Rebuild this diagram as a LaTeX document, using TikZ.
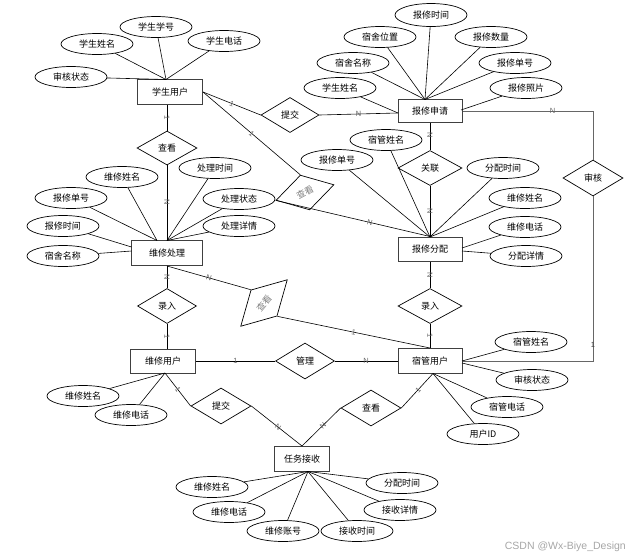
\documentclass[tikz,border=0pt]{standalone}
\usepackage{fontspec}
\setmainfont{Liberation Sans}
\newfontfamily\cjk{Noto Sans CJK SC}
\usetikzlibrary{shapes.geometric,calc}
\begin{document}
\begin{tikzpicture}[x=1pt,y=-1pt,
  ent/.style={draw=black!75, line width=1pt, minimum width=64pt, minimum height=24pt, inner sep=0pt, font=\cjk\fontsize{9}{9}\selectfont},
  attr/.style={ellipse, draw, line width=0.7pt, minimum width=72pt, minimum height=21pt, inner sep=0pt, font=\cjk\fontsize{9}{9}\selectfont},
  rel/.style={diamond, draw, line width=0.7pt, minimum width=60pt, minimum height=35pt, inner sep=0pt, font=\cjk\fontsize{9}{9}\selectfont},
  rtxt/.style={inner sep=0pt, text=black!50, font=\cjk\fontsize{9}{9}\selectfont},
  ln/.style={line width=0.6pt},
  gln/.style={line width=0.8pt, draw=black!60},
  mk/.style={sloped, font=\fontsize{7.5}{7.5}\selectfont, text=black!60, inner sep=0pt},
  mku/.style={font=\fontsize{7.5}{7.5}\selectfont, text=black!75, inner sep=0pt},
]
\useasboundingbox (0,0) rectangle (630,558);

% entities
\node[ent, minimum width=65pt, minimum height=25pt] (su) at (170,92) {学生用户};
\node[ent, minimum height=23pt] (bxsq) at (430,111) {报修申请};
\node[ent, minimum width=71pt, minimum height=25pt] (wxcl) at (167,253) {维修处理};
\node[ent] (bxfp) at (430,249) {报修分配};
\node[ent, minimum width=65pt] (wxyh) at (163,361) {维修用户};
\node[ent, minimum height=25pt] (sgyh) at (430,361) {宿管用户};
\node[ent, minimum width=55pt, minimum height=25pt] (rwjs) at (302,459) {任务接收};

% relationships
\node[rel, minimum width=58pt] (tj1) at (290,115) {提交};
\node[rel, minimum height=34pt] (ck1) at (167,148) {查看};
\node[rel, minimum width=64pt] (gl) at (430,168) {关联};
\node[rel, minimum height=36pt] (sh) at (593,178) {审核};
\node[rel, minimum width=59pt] (lr1) at (167,306) {录入};
\node[rel, minimum width=64pt] (lr2) at (430,306) {录入};
\node[rel, minimum width=59pt, minimum height=36pt] (gl2) at (305,361) {管理};
\node[rel, minimum height=36pt] (tj2) at (221,406) {提交};
\node[rel, minimum height=36pt] (ck2) at (371,408) {查看};
\node[rel, rotate=15, minimum height=36pt] (ck3) at (305,192.5) {};
\node[rtxt, rotate=28] (ck3t) at (ck3.center) {查看};
\node[rel, rotate=45, minimum width=66pt, minimum height=37pt] (ck4) at (264,303) {};
\node[rtxt, rotate=50] (ck4t) at (ck4.center) {查看};

% attributes
\node[attr] (su1) at (71,77) {审核状态};
\node[attr] (su2) at (97,44) {学生姓名};
\node[attr] (su3) at (156,27) {学生学号};
\node[attr] (su4) at (224,41) {学生电话};

\node[attr, minimum height=23pt] (bq1) at (431,15) {报修时间};
\node[attr] (bq2) at (380,37) {宿舍位置};
\node[attr] (bq3) at (491,37) {报修数量};
\node[attr] (bq4) at (353,63) {宿舍名称};
\node[attr] (bq5) at (515,63) {报修单号};
\node[attr] (bq6) at (340,88) {学生姓名};
\node[attr] (bq7) at (526,88) {报修照片};

\node[attr] (cl1) at (122,177) {维修姓名};
\node[attr] (cl2) at (215,168) {处理时间};
\node[attr] (cl3) at (71,198) {报修单号};
\node[attr] (cl4) at (239,199) {处理状态};
\node[attr] (cl5) at (63,226) {报修时间};
\node[attr] (cl6) at (239,226) {处理详情};
\node[attr] (cl7) at (63,256) {宿舍名称};

\node[attr] (fp1) at (386,140) {宿管姓名};
\node[attr] (fp2) at (337,160) {报修单号};
\node[attr] (fp3) at (503,168) {分配时间};
\node[attr] (fp4) at (525,198) {维修姓名};
\node[attr] (fp5) at (525,227) {维修电话};
\node[attr] (fp6) at (526,256) {分配详情};

\node[attr] (sg1) at (531,342) {宿管姓名};
\node[attr] (sg2) at (532,380) {审核状态};
\node[attr] (sg3) at (507,407) {宿管电话};
\node[attr] (sg4) at (483,434) {用户ID};

\node[attr] (wy1) at (83,396) {维修姓名};
\node[attr] (wy2) at (131,415) {维修电话};

\node[attr] (rj1) at (212,487) {维修姓名};
\node[attr] (rj2) at (229,512) {维修电话};
\node[attr] (rj3) at (283,531) {维修账号};
\node[attr] (rj4) at (357,531) {接收时间};
\node[attr] (rj5) at (402,483) {分配时间};
\node[attr] (rj6) at (400,510) {接收详情};

% connection points
\coordinate (suT) at (166,79.5);
\coordinate (bqT) at (425,99.5);
\coordinate (bqL) at (398,113);
\coordinate (bqR) at (461,110);
\coordinate (clTL) at (157,240.5);
\coordinate (clTR) at (167,240.5);
\coordinate (clL1) at (131.5,247);
\coordinate (clL2) at (131.5,251);
\coordinate (fpT) at (430,237);
\coordinate (fpR1) at (462,248);
\coordinate (fpR2) at (462,251);
\coordinate (sgR1) at (462,361);
\coordinate (sgR2) at (462,363);
\coordinate (sgB) at (433,373.5);
\coordinate (wyB) at (165,373);
\coordinate (rjB) at (308,471.5);

% attribute lines
\foreach \a in {su1,su2,su3,su4} \draw[ln] (\a) -- (suT);
\foreach \a in {bq1,bq2,bq3,bq4,bq5} \draw[ln] (\a) -- (bqT);
\draw[ln] (bq6) -- (bqL);
\draw[ln] (bq7) -- (bqR);
\foreach \a in {cl1,cl3} \draw[ln] (\a) -- (clTL);
\foreach \a in {cl2,cl4,cl6} \draw[ln] (\a) -- (clTR);
\draw[ln] (cl5) -- (clL1);
\draw[ln] (cl7) -- (clL2);
\foreach \a in {fp1,fp2,fp3,fp4} \draw[ln] (\a) -- (fpT);
\draw[ln] (fp5) -- (fpR1);
\draw[ln] (fp6) -- (fpR2);
\draw[ln] (sg1) -- (sgR1);
\draw[ln] (sg2) -- (sgR2);
\foreach \a in {sg3,sg4} \draw[ln] (\a) -- (sgB);
\foreach \a in {wy1,wy2} \draw[ln] (\a) -- (wyB);
\foreach \a in {rj1,rj2,rj3,rj4,rj5,rj6} \draw[ln] (\a) -- (rjB);

% relationship lines
\draw[ln] (su.east) -- node[mk, pos=0.5] {1} (tj1.west);
\draw[ln] (su.east) -- node[mk, pos=0.5] {1} (ck3.north);
\draw[ln] (tj1.east) -- node[mk, pos=0.5] {N} ($(bxsq.west)+(0,2)$);
\draw[ln] (su.south -| ck1.north) -- node[mk, pos=0.5] {1} (ck1.north);
\draw[ln] (ck1.south) -- node[mk, pos=0.5] {N} (wxcl.north);
\draw[ln] (bxsq.south) -- node[mk, pos=0.45] {N} (gl.north);
\draw[ln] (gl.south) -- node[mk, pos=0.5] {N} (bxfp.north);
\draw[gln] (bxsq.east) -| node[mk, pos=0.345] {N} (sh.north);
\draw[gln] (sh.south) |- node[mku, pos=0.45] {1} (sgyh.east);
\draw[ln] (wxcl.south) -- node[mk, pos=0.5] {N} (lr1.north);
\draw[ln] (lr1.south) -- node[mk, pos=0.5] {1} (lr1.south |- wxyh.north);
\draw[ln] (bxfp.south) -- node[mk, pos=0.5] {N} (lr2.north);
\draw[ln] (lr2.south) -- node[mk, pos=0.5] {1} (sgyh.north);
\draw[ln] (wxyh.east) -- node[mk, pos=0.5] {1} (gl2.west);
\draw[ln] (gl2.east) -- node[mk, pos=0.5] {N} (sgyh.west);
\draw[ln] (wxcl.south) -- node[mk, pos=0.5] {N} (ck4.north);
\draw[ln] (ck4.south) -- node[mk, pos=0.5] {1} (sgyh.north);
\draw[ln] (ck3.west) -- node[mk, pos=0.61] {N} (bxfp.north);
\draw[ln] (wyB) -- node[mk, pos=0.5] {1} (tj2.west);
\draw[ln] (tj2.east) -- node[mk, pos=0.53] {N} (rwjs.north);
\draw[ln] (ck2.west) -- node[mk, pos=0.46] {N} (rwjs.north);
\draw[ln] (sgB) -- node[mk, pos=0.47] {1} (ck2.east);

% watermark
\node[font=\fontsize{10.5}{10.5}\selectfont, text=black!35, anchor=east, inner sep=0pt] (wm) at (626,547) {CSDN @Wx-Biye\_Design};
\end{tikzpicture}
\end{document}
